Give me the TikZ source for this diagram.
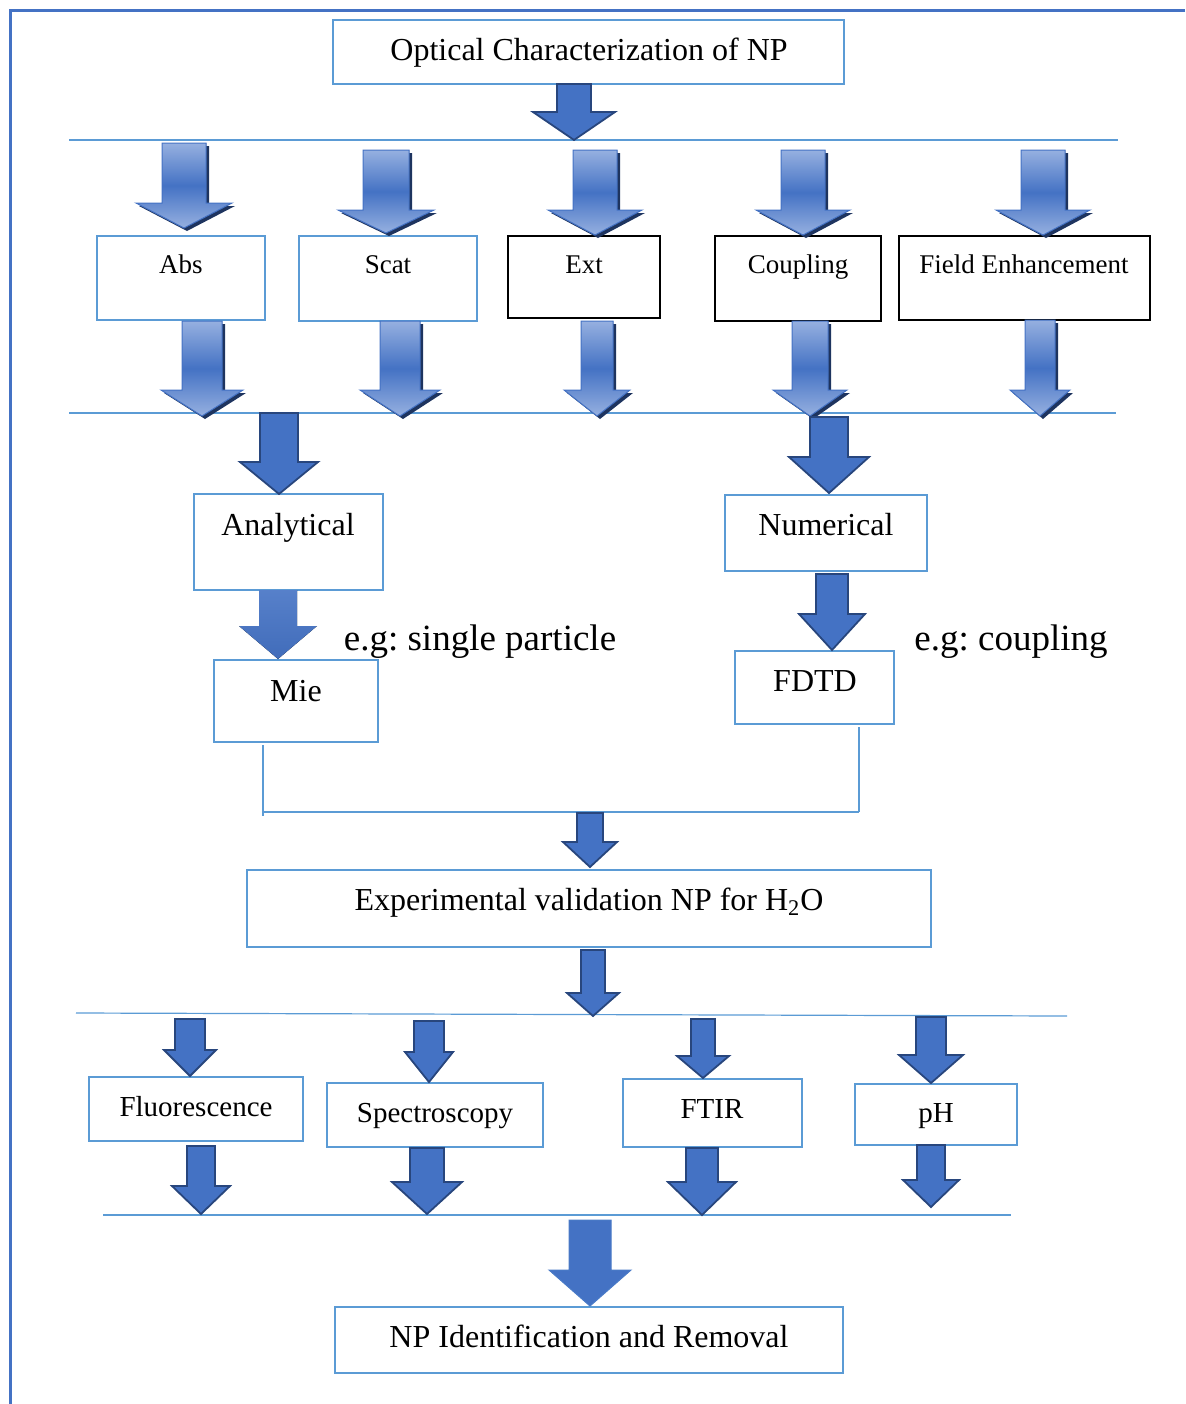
\documentclass[tikz,border=0pt]{standalone}
\usepackage{fontspec}
\setmainfont{Liberation Serif}
\usetikzlibrary{fit}
\definecolor{boxblue}{RGB}{91, 155, 213}
\definecolor{arrblue}{RGB}{68, 114, 196}
\definecolor{arrdark}{RGB}{40, 70, 125}
\definecolor{arrlight}{RGB}{150, 176, 224}
\definecolor{shade}{RGB}{30, 52, 95}
\newcommand{\blockarrow}[7][]{%
  \filldraw[#1] ({#2-#6}, #3) -- ({#2+#6}, #3) -- ({#2+#6}, #4) -- ({#2+#7}, #4)
    -- (#2, #5) -- ({#2-#7}, #4) -- ({#2-#6}, #4) -- cycle;
}

\begin{document}
\begin{tikzpicture}[x=0.5pt, y=-0.5pt,
  box/.style={draw=boxblue, line width=1.2pt, inner sep=0pt},
  blackbox/.style={draw=black, line width=0.8pt, inner sep=0pt},
  lab/.style={font=\fontsize{16}{19}\selectfont, text height=0.66em, text depth=0pt, inner sep=0pt, yshift=-2pt},
  smalllab/.style={lab, font=\fontsize{13.5}{16}\selectfont},
  midlab/.style={lab, font=\fontsize{14.5}{17}\selectfont},
  note/.style={lab, font=\fontsize{18.5}{22}\selectfont},
  rule/.style={draw=boxblue, line width=0.6pt},
  flatarrow/.style={fill=arrblue, draw=arrdark, line width=0.9pt},
  plainarrow/.style={top color=arrblue!90!white, bottom color=arrblue!95!black, draw=none},
  shinyarrow/.style={top color=arrlight, bottom color=arrlight, middle color=arrblue, draw=arrblue, line width=0.5pt},
  shadowarrow/.style={fill=shade, draw=none, shift={(3,3)}}]

  \useasboundingbox (0, 0) rectangle (1185, 1404);

  % frame
  \draw[arrblue, line width=1.5pt] (1185, 10) -- (10, 10) -- (10, 1404);

  % boxes
  \node[box, fit={(333, 20) (844, 84)}] (optical) {};
  \node[lab] (opticaltxt) at (589, 50) {Optical Characterization of NP};

  \node[box, fit={(97, 236) (265, 320)}] (abs) {};
  \node[smalllab] (abstxt) at (181, 263) {Abs};
  \node[box, fit={(299, 236) (477, 321)}] (scat) {};
  \node[smalllab] (scattxt) at (388, 263) {Scat};
  \node[blackbox, fit={(508, 236) (660, 318)}] (ext) {};
  \node[smalllab] (exttxt) at (584, 263) {Ext};
  \node[blackbox, fit={(715, 236) (881, 321)}] (coupling) {};
  \node[smalllab] (couplingtxt) at (798, 263) {Coupling};
  \node[blackbox, fit={(899, 236) (1150, 320)}] (field) {};
  \node[smalllab] (fieldtxt) at (1024, 263) {Field Enhancement};

  \node[box, fit={(194, 494) (383, 590)}] (analytical) {};
  \node[lab] (analyticaltxt) at (288, 525) {Analytical};
  \node[box, fit={(214, 660) (378, 742)}] (mie) {};
  \node[lab] (mietxt) at (296, 691) {Mie};
  \node[note] (single) at (480, 640) {e.g:\ single particle};

  \node[box, fit={(725, 495) (927, 571)}] (numerical) {};
  \node[lab] (numericaltxt) at (826, 525) {Numerical};
  \node[box, fit={(735, 651) (894, 724)}] (fdtd) {};
  \node[lab] (fdtdtxt) at (815, 681) {FDTD};
  \node[note] (couple) at (1011, 640) {e.g:\ coupling};

  \node[box, fit={(247, 870) (931, 947)}] (experiment) {};
  \node[lab] (experimenttxt) at (589, 900) {Experimental validation NP for H\textsubscript{2}O};

  \node[box, fit={(89, 1077) (303, 1141)}] (fluo) {};
  \node[midlab] (fluotxt) at (196, 1106) {Fluorescence};
  \node[box, fit={(327, 1083) (543, 1147)}] (spec) {};
  \node[midlab] (spectxt) at (435, 1112) {Spectroscopy};
  \node[box, fit={(623, 1079) (802, 1147)}] (ftir) {};
  \node[midlab] (ftirtxt) at (712, 1108) {FTIR};
  \node[box, fit={(855, 1084) (1017, 1145)}] (ph) {};
  \node[midlab] (phtxt) at (936, 1112) {pH};

  \node[box, fit={(335, 1307) (843, 1373)}] (removal) {};
  \node[lab] (removaltxt) at (589, 1337) {NP Identification and Removal};

  % rules
  \draw[rule] (69, 140) -- (1118, 140);
  \draw[rule] (69, 413) -- (1116, 413);
  \draw[rule] (76, 1013) -- (1067, 1016);
  \draw[rule] (103, 1215) -- (1011, 1215);

  % join of the two branches
  \coordinate (mieout) at (263, 745);
  \coordinate (fdtdout) at (859, 727);
  \coordinate (joinleft) at (263, 812);
  \coordinate (joinright) at (859, 812);
  \draw[rule] (mieout) -- (263, 816);
  \draw[rule] (joinleft) -- (joinright);
  \draw[rule] (fdtdout) -- (joinright);

  % shiny arrows round the first row
  \foreach \cx/\yt/\yh/\yp/\sw/\hw in {184/143/203/228/22/48, 386/150/210/233/23/48,
      595/150/210/235/22/47, 803/150/210/235/22/47, 1043/150/210/235/22/47,
      202/321/390/416/20/41, 400/321/390/416/20/40, 597/321/390/416/16/33,
      810/321/390/416/18/37, 1040/320/390/416/15/30} {
    \blockarrow[shadowarrow]{\cx}{\yt}{\yh}{\yp}{\sw}{\hw}
    \blockarrow[shinyarrow]{\cx}{\yt}{\yh}{\yp}{\sw}{\hw}
  }

  % flat arrows
  \foreach \cx/\yt/\yh/\yp/\sw/\hw in {574/84/112/140/17/41,
      279/413/462/494/19/39, 829/417/457/493/19/40, 832/574/614/650/16/33,
      590/813/842/867/13/27, 593/950/993/1016/12/26,
      190/1019/1050/1076/15/26, 429/1021/1052/1082/15/24,
      703/1019/1056/1078/12/26, 931/1017/1055/1083/15/32,
      201/1146/1186/1214/14/29, 427/1148/1182/1214/17/35,
      702/1148/1182/1215/16/34, 931/1145/1180/1207/14/28} {
    \blockarrow[flatarrow]{\cx}{\yt}{\yh}{\yp}{\sw}{\hw}
  }

  \blockarrow[plainarrow]{278}{590}{626}{659}{19}{39}
  \blockarrow[fill=arrblue, draw=arrblue!80!boxblue, line width=0.5pt]{590}{1220}{1270}{1306}{21}{41}

\end{tikzpicture}
\end{document}
